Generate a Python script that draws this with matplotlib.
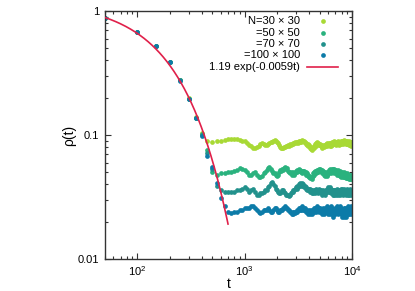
import numpy as np
import matplotlib
matplotlib.use("Agg")
import matplotlib.pyplot as plt
from matplotlib.ticker import LogLocator, NullFormatter, FixedLocator, FixedFormatter

plt.rcParams['font.family'] = ['Liberation Sans', 'DejaVu Sans']
plt.rcParams['mathtext.fontset'] = 'custom'
plt.rcParams['mathtext.rm'] = 'Liberation Sans'
plt.rcParams['mathtext.it'] = 'Liberation Sans:italic'

# ---------------- data ----------------
times = list(range(50, 10001, 50))

rho_30 = [
    0.88, 0.68, 0.52, 0.39, 0.277, 0.197, 0.140, 0.104, 0.089, 0.088,
    0.089, 0.090, 0.091, 0.092, 0.093, 0.092, 0.093, 0.091, 0.090, 0.089,
    0.086, 0.083, 0.081, 0.0785, 0.079, 0.080, 0.082, 0.085, 0.086, 0.084,
    0.083, 0.083, 0.085, 0.086, 0.088, 0.088, 0.090, 0.091, 0.090, 0.088,
    0.086, 0.083, 0.080, 0.078, 0.079, 0.078, 0.080, 0.080, 0.081, 0.082,
    0.083, 0.082, 0.084, 0.083, 0.085, 0.086, 0.084, 0.086, 0.087, 0.086,
    0.087, 0.088, 0.086, 0.089, 0.088, 0.090, 0.088, 0.091, 0.089, 0.090,
    0.089, 0.087, 0.088, 0.085, 0.086, 0.083, 0.084, 0.082, 0.083, 0.081,
    0.080, 0.078, 0.077, 0.079, 0.076, 0.078, 0.080, 0.079, 0.082, 0.081,
    0.084, 0.082, 0.086, 0.085, 0.087, 0.084, 0.086, 0.083, 0.085, 0.083,
    0.084, 0.081, 0.083, 0.080, 0.082, 0.079, 0.083, 0.081, 0.080, 0.082,
    0.081, 0.083, 0.082, 0.085, 0.083, 0.086, 0.084, 0.082, 0.085, 0.084,
    0.086, 0.083, 0.085, 0.082, 0.086, 0.084, 0.081, 0.085, 0.083, 0.086,
    0.087, 0.084, 0.088, 0.086, 0.089, 0.085, 0.087, 0.084, 0.088, 0.086,
    0.083, 0.087, 0.085, 0.088, 0.084, 0.086, 0.089, 0.085, 0.087, 0.084,
    0.086, 0.083, 0.087, 0.085, 0.088, 0.084, 0.086, 0.089, 0.085, 0.087,
    0.088, 0.086, 0.090, 0.087, 0.089, 0.085, 0.088, 0.091, 0.087, 0.089,
    0.086, 0.090, 0.087, 0.089, 0.084, 0.088, 0.086, 0.090, 0.085, 0.088,
    0.087, 0.084, 0.088, 0.085, 0.087, 0.083, 0.086, 0.089, 0.085, 0.087,
    0.084, 0.086, 0.083, 0.087, 0.085, 0.082, 0.086, 0.084, 0.087, 0.085,
]

rho_50 = [
    0.88, 0.677, 0.52, 0.388, 0.276, 0.196, 0.138, 0.101, 0.075, 0.050,
    0.048, 0.049, 0.049, 0.050, 0.050, 0.051, 0.052, 0.054, 0.053, 0.052,
    0.050, 0.048, 0.048, 0.049, 0.050, 0.048, 0.046, 0.046, 0.047, 0.049,
    0.050, 0.052, 0.054, 0.055, 0.053, 0.051, 0.049, 0.049, 0.048, 0.047,
    0.048, 0.050, 0.052, 0.051, 0.053, 0.052, 0.054, 0.055, 0.053, 0.054,
    0.051, 0.050, 0.049, 0.050, 0.048, 0.049, 0.050, 0.048, 0.049, 0.051,
    0.050, 0.052, 0.051, 0.053, 0.051, 0.052, 0.050, 0.051, 0.049, 0.051,
    0.050, 0.051, 0.049, 0.050, 0.048, 0.049, 0.047, 0.048, 0.047, 0.046,
    0.046, 0.045, 0.046, 0.044, 0.046, 0.047, 0.049, 0.048, 0.050, 0.049,
    0.051, 0.049, 0.051, 0.050, 0.052, 0.050, 0.052, 0.051, 0.053, 0.051,
    0.053, 0.051, 0.052, 0.050, 0.052, 0.049, 0.051, 0.049, 0.050, 0.048,
    0.049, 0.047, 0.049, 0.048, 0.050, 0.047, 0.049, 0.048, 0.050, 0.049,
    0.051, 0.049, 0.052, 0.050, 0.053, 0.051, 0.049, 0.052, 0.050, 0.053,
    0.051, 0.053, 0.050, 0.052, 0.049, 0.051, 0.053, 0.050, 0.052, 0.050,
    0.051, 0.049, 0.052, 0.050, 0.048, 0.051, 0.049, 0.052, 0.050, 0.048,
    0.050, 0.048, 0.051, 0.049, 0.047, 0.050, 0.048, 0.046, 0.049, 0.047,
    0.049, 0.047, 0.050, 0.048, 0.046, 0.049, 0.047, 0.050, 0.048, 0.046,
    0.048, 0.046, 0.049, 0.047, 0.045, 0.048, 0.046, 0.049, 0.047, 0.045,
    0.048, 0.046, 0.047, 0.045, 0.048, 0.046, 0.044, 0.047, 0.045, 0.048,
    0.046, 0.044, 0.047, 0.045, 0.048, 0.046, 0.044, 0.047, 0.045, 0.046,
]

rho_70 = [
    0.88, 0.677, 0.52, 0.388, 0.276, 0.196, 0.137, 0.100, 0.072, 0.053,
    0.039, 0.036, 0.035, 0.035, 0.035, 0.035, 0.036, 0.036, 0.037, 0.038,
    0.037, 0.035, 0.036, 0.037, 0.035, 0.033, 0.033, 0.034, 0.034, 0.035,
    0.036, 0.036, 0.038, 0.039, 0.041, 0.042, 0.040, 0.039, 0.037, 0.036,
    0.035, 0.034, 0.034, 0.035, 0.036, 0.036, 0.035, 0.034, 0.033, 0.033,
    0.033, 0.032, 0.033, 0.034, 0.035, 0.035, 0.036, 0.036, 0.037, 0.038,
    0.037, 0.039, 0.038, 0.040, 0.039, 0.041, 0.040, 0.041, 0.039, 0.040,
    0.039, 0.038, 0.039, 0.037, 0.038, 0.036, 0.037, 0.036, 0.037, 0.036,
    0.037, 0.035, 0.036, 0.034, 0.036, 0.035, 0.034, 0.036, 0.035, 0.034,
    0.036, 0.035, 0.037, 0.035, 0.036, 0.034, 0.036, 0.035, 0.037, 0.036,
    0.035, 0.036, 0.034, 0.035, 0.033, 0.035, 0.034, 0.036, 0.034, 0.035,
    0.033, 0.035, 0.034, 0.036, 0.035, 0.037, 0.035, 0.036, 0.038, 0.036,
    0.037, 0.035, 0.036, 0.038, 0.036, 0.035, 0.037, 0.034, 0.036, 0.035,
    0.034, 0.036, 0.033, 0.035, 0.034, 0.036, 0.033, 0.035, 0.034, 0.036,
    0.035, 0.033, 0.036, 0.034, 0.035, 0.037, 0.034, 0.036, 0.033, 0.035,
    0.036, 0.034, 0.035, 0.033, 0.036, 0.034, 0.037, 0.035, 0.034, 0.036,
    0.035, 0.037, 0.034, 0.036, 0.035, 0.033, 0.036, 0.034, 0.037, 0.035,
    0.036, 0.034, 0.036, 0.035, 0.033, 0.036, 0.034, 0.037, 0.035, 0.034,
    0.036, 0.033, 0.035, 0.034, 0.036, 0.034, 0.035, 0.033, 0.036, 0.034,
    0.035, 0.037, 0.034, 0.036, 0.033, 0.035, 0.034, 0.036, 0.034, 0.035,
]

rho_100 = [
    0.88, 0.677, 0.52, 0.388, 0.275, 0.195, 0.137, 0.099, 0.068, 0.055,
    0.041, 0.031, 0.027, 0.024, 0.0235, 0.024, 0.024, 0.025, 0.025, 0.026,
    0.026, 0.026, 0.027, 0.027, 0.026, 0.025, 0.024, 0.0235, 0.024, 0.025,
    0.025, 0.025, 0.026, 0.025, 0.024, 0.024, 0.025, 0.026, 0.026, 0.025,
    0.024, 0.024, 0.025, 0.025, 0.025, 0.026, 0.026, 0.027, 0.026, 0.026,
    0.025, 0.025, 0.024, 0.024, 0.023, 0.024, 0.023, 0.024, 0.0235, 0.024,
    0.025, 0.024, 0.025, 0.026, 0.025, 0.026, 0.025, 0.027, 0.026, 0.025,
    0.026, 0.025, 0.026, 0.024, 0.025, 0.024, 0.025, 0.023, 0.024, 0.024,
    0.023, 0.025, 0.024, 0.025, 0.023, 0.025, 0.024, 0.026, 0.024, 0.025,
    0.026, 0.024, 0.026, 0.025, 0.027, 0.025, 0.026, 0.024, 0.026, 0.025,
    0.026, 0.024, 0.025, 0.023, 0.025, 0.024, 0.026, 0.024, 0.025, 0.023,
    0.025, 0.024, 0.026, 0.024, 0.025, 0.027, 0.024, 0.026, 0.025, 0.023,
    0.025, 0.026, 0.024, 0.025, 0.023, 0.025, 0.027, 0.024, 0.026, 0.024,
    0.023, 0.025, 0.024, 0.022, 0.025, 0.023, 0.024, 0.026, 0.023, 0.025,
    0.024, 0.026, 0.024, 0.025, 0.027, 0.024, 0.026, 0.025, 0.023, 0.026,
    0.024, 0.026, 0.025, 0.027, 0.024, 0.025, 0.023, 0.026, 0.024, 0.025,
    0.023, 0.025, 0.022, 0.024, 0.023, 0.025, 0.022, 0.024, 0.026, 0.023,
    0.025, 0.023, 0.026, 0.024, 0.022, 0.025, 0.024, 0.026, 0.023, 0.025,
    0.024, 0.027, 0.025, 0.023, 0.026, 0.024, 0.025, 0.023, 0.026, 0.024,
    0.026, 0.024, 0.025, 0.023, 0.026, 0.024, 0.027, 0.024, 0.025, 0.026,
]

fit_amp = 1.19
fit_rate = 0.0059
fit_t_range = (50, 700)

series_labels = ["N=30 \u00d7 30", "=50 \u00d7 50", "=70 \u00d7 70", "=100 \u00d7 100"]
fit_label = "1.19 exp(-0.0059t)"
colors = ["#a8d935", "#2ab27e", "#22918c", "#0c7ba8"]
fit_color = "#e0204a"

# ---------------- figure ----------------
fig = plt.figure(figsize=(4.15, 2.91), dpi=100)
ax = fig.add_axes([105/415, 32/291, 247/415, 248/291])

for vals, c in zip([rho_30, rho_50, rho_70, rho_100], colors):
    ax.plot(times, vals, linestyle='none', marker='o', ms=3.4, mew=0, color=c, zorder=2)

tf = np.linspace(fit_t_range[0], fit_t_range[1], 300)
ax.plot(tf, fit_amp * np.exp(-fit_rate * tf), color=fit_color, lw=1.2, zorder=3)

ax.set_xscale('log')
ax.set_yscale('log')
ax.set_xlim(50, 10000)
ax.set_ylim(0.01, 1)

ax.yaxis.set_major_locator(FixedLocator([0.01, 0.1, 1]))
ax.yaxis.set_major_formatter(FixedFormatter(["0.01", "0.1", "1"]))
ax.yaxis.set_minor_locator(LogLocator(base=10, subs=np.arange(2, 10), numticks=10))
ax.yaxis.set_minor_formatter(NullFormatter())
ax.xaxis.set_major_locator(FixedLocator([100, 1000, 10000]))
ax.xaxis.set_major_formatter(FixedFormatter([r"$\mathdefault{10^{2}}$", r"$\mathdefault{10^{3}}$", r"$\mathdefault{10^{4}}$"]))
ax.xaxis.set_minor_locator(LogLocator(base=10, subs=np.arange(2, 10), numticks=10))
ax.xaxis.set_minor_formatter(NullFormatter())

ax.tick_params(which='both', direction='in', top=True, right=True, colors='#333333',
               labelcolor='black', labelsize=8, width=0.8)
ax.tick_params(which='major', length=4.5, pad=4)
ax.tick_params(which='minor', length=2.5)
for s in ax.spines.values():
    s.set_color('#333333')
    s.set_linewidth(1.0)

ax.set_xlabel("t", fontsize=10, labelpad=-1)
ax.set_ylabel("\u03c1(t)", fontsize=10, labelpad=1)

# legend (gnuplot style: right-aligned text, sample on the right)
x_text = 0.789
x_mark = 0.883
rows_y = [0.960, 0.913, 0.867, 0.823, 0.776]
for lab, c, yy in zip(series_labels, colors, rows_y[:4]):
    ax.text(x_text, yy, lab, transform=ax.transAxes, ha='right', va='center', fontsize=8)
    ax.plot([x_mark], [yy], transform=ax.transAxes, marker='o', ms=3.4, mew=0, color=c,
            linestyle='none', clip_on=False)
ax.text(x_text, rows_y[4], fit_label, transform=ax.transAxes, ha='right', va='center', fontsize=8)
ax.plot([0.818, 0.943], [rows_y[4], rows_y[4]], transform=ax.transAxes, color=fit_color, lw=1.2)

fig.savefig("out.png", dpi=100)
